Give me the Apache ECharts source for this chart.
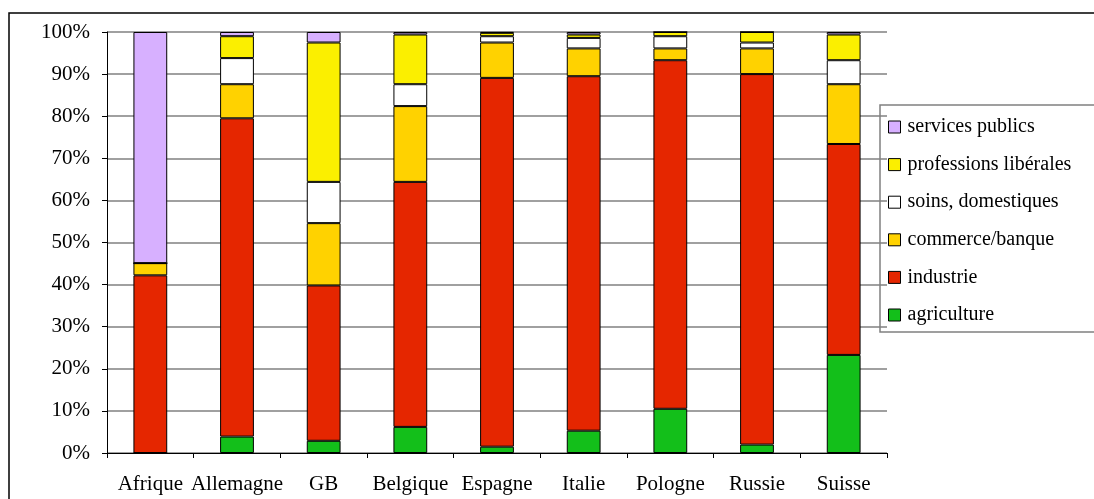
<!DOCTYPE html>
<html><head><meta charset="utf-8">
<script src="https://cdn.jsdelivr.net/npm/echarts@6/dist/echarts.min.js"></script>
<style>html,body{margin:0;padding:0;background:#fff}#c{width:1094px;height:499px}</style>
</head><body><div id="c"></div>
<script>
const categories = ['Afrique','Allemagne','GB','Belgique','Espagne','Italie','Pologne','Russie','Suisse'];
const agriculture = [0, 3.9, 2.9, 6.2, 1.5, 5.3, 10.5, 2.0, 23.3];
const industrie = [42.2, 75.6, 36.9, 58.2, 87.6, 84.2, 82.8, 88.0, 50.1];
const commerce = [2.9, 8.1, 14.8, 18.0, 8.4, 6.6, 2.8, 6.1, 14.2];
const soins = [0, 6.2, 9.8, 5.2, 1.5, 2.5, 2.9, 1.4, 5.7];
const liberales = [0, 5.2, 33.1, 11.8, 0.8, 0.8, 1.0, 2.5, 6.1];
const services = [54.9, 1.0, 2.5, 0.6, 0.2, 0.6, 0, 0, 0.6];
const yTicks = [0,10,20,30,40,50,60,70,80,90,100];

const font = '"Liberation Serif","Times New Roman",serif';
const mk = (name, data, color) => ({
  name, type: 'bar', stack: 's', data, barWidth: '39%',
  itemStyle: {color, borderColor: '#000', borderWidth: 1},
  emphasis: {disabled: true}
});
const chart = echarts.init(document.getElementById('c'), null, {renderer: 'canvas'});
chart.setOption({
  animation: false,
  backgroundColor: '#fff',
  textStyle: {fontFamily: font, color: '#000'},
  grid: {left: 107, right: 207, top: 32, bottom: 46},
  graphic: [
    {type: 'rect', shape: {x: 9, y: 13, width: 1100, height: 500}, style: {fill: 'none', stroke: '#000', lineWidth: 1.5}, z: 100},
    {type: 'rect', shape: {x: 880, y: 105, width: 230, height: 227}, style: {fill: '#fff', stroke: '#808080', lineWidth: 1.5}, z: 0}
  ],
  legend: {
    orient: 'vertical', left: 883, top: 112, itemGap: 17.6,
    itemWidth: 12, itemHeight: 12,
    data: ['services publics','professions libérales','soins, domestiques','commerce/banque','industrie','agriculture'],
    textStyle: {fontFamily: font, fontSize: 20, color: '#000', padding: [0,0,0,2]},
    icon: 'rect',
    itemStyle: {borderColor: '#000', borderWidth: 1}
  },
  xAxis: {
    type: 'category', data: categories,
    axisLine: {lineStyle: {color: '#000', width: 1}},
    axisTick: {show: true, length: 5, lineStyle: {color: '#000'}},
    axisLabel: {fontFamily: font, fontSize: 21, color: '#000', margin: 21, interval: 0}
  },
  yAxis: {
    type: 'value', min: 0, max: 100, interval: 10,
    axisLine: {show: true, lineStyle: {color: '#000', width: 1}},
    axisTick: {show: true, length: 5, lineStyle: {color: '#000'}},
    axisLabel: {fontFamily: font, fontSize: 21, color: '#000', margin: 17,
      formatter: v => yTicks.includes(v) ? v + '%' : ''},
    splitLine: {show: true, lineStyle: {color: '#808080', width: 1.5}}
  },
  series: [
    mk('agriculture', agriculture, '#13BF1A'),
    mk('industrie', industrie, '#E52600'),
    mk('commerce/banque', commerce, '#FFD200'),
    mk('soins, domestiques', soins, '#FFFFFF'),
    mk('professions libérales', liberales, '#FBEF00'),
    mk('services publics', services, '#D7B0FF')
  ]
});
</script></body></html>
